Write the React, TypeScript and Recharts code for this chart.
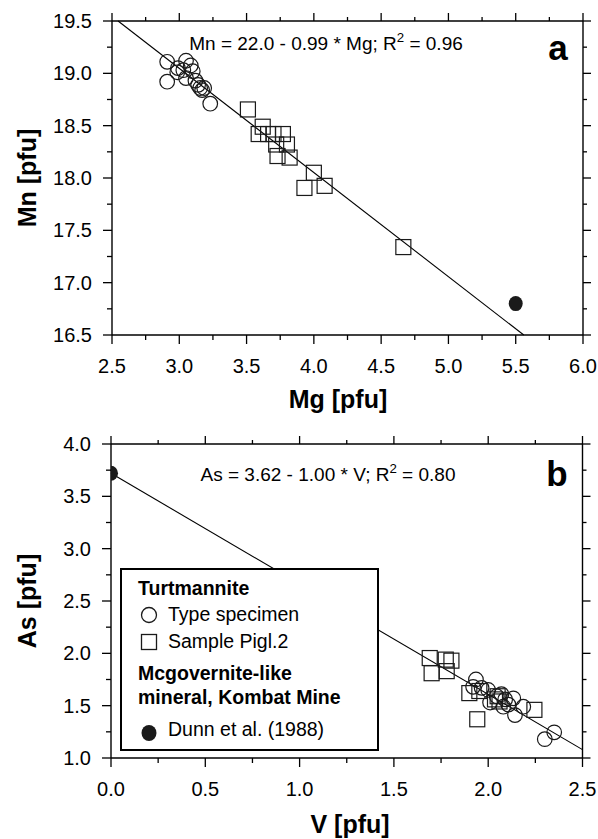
import React from "react";
import { ScatterChart, Scatter, XAxis, YAxis, ReferenceLine } from "recharts";

const FONT = '"Liberation Sans", Arial, Helvetica, sans-serif';
const INK = "#1a1a1a";

// panel a: Mn vs Mg
const MG_TICKS = [2.5, 2.75, 3.0, 3.25, 3.5, 3.75, 4.0, 4.25, 4.5, 4.75, 5.0, 5.25, 5.5, 5.75, 6.0];
const MN_TICKS = [16.5, 16.75, 17.0, 17.25, 17.5, 17.75, 18.0, 18.25, 18.5, 18.75, 19.0, 19.25, 19.5];

const typeSpecimenA = [
  { x: 2.91, y: 19.11 }, { x: 2.91, y: 18.92 }, { x: 2.99, y: 19.05 }, { x: 2.985, y: 19.01 },
  { x: 3.05, y: 19.12 }, { x: 3.085, y: 19.075 }, { x: 3.1, y: 19.02 }, { x: 3.05, y: 18.955 },
  { x: 3.03, y: 19.03 }, { x: 3.12, y: 18.93 }, { x: 3.14, y: 18.89 }, { x: 3.155, y: 18.86 },
  { x: 3.17, y: 18.84 }, { x: 3.185, y: 18.86 }, { x: 3.23, y: 18.71 },
];
const pigl2A = [
  { x: 3.51, y: 18.655 }, { x: 3.62, y: 18.49 }, { x: 3.59, y: 18.42 }, { x: 3.66, y: 18.42 },
  { x: 3.7, y: 18.42 }, { x: 3.77, y: 18.42 }, { x: 3.72, y: 18.32 }, { x: 3.8, y: 18.32 },
  { x: 3.73, y: 18.21 }, { x: 3.82, y: 18.195 }, { x: 4.0, y: 18.05 }, { x: 3.93, y: 17.905 },
  { x: 4.08, y: 17.925 }, { x: 4.665, y: 17.34 },
];
const dunnA = [{ x: 5.5, y: 16.8 }];
const fitA = [{ x: 2.545, y: 19.5 }, { x: 5.56, y: 16.5 }];

// panel b: As vs V
const V_TICKS = [0, 0.25, 0.5, 0.75, 1.0, 1.25, 1.5, 1.75, 2.0, 2.25, 2.5];
const AS_TICKS = [1.0, 1.25, 1.5, 1.75, 2.0, 2.25, 2.5, 2.75, 3.0, 3.25, 3.5, 3.75, 4.0];

const typeSpecimenB = [
  { x: 1.935, y: 1.75 }, { x: 1.92, y: 1.68 }, { x: 1.965, y: 1.67 }, { x: 2.0, y: 1.65 },
  { x: 2.01, y: 1.53 }, { x: 2.045, y: 1.59 }, { x: 2.07, y: 1.61 }, { x: 2.09, y: 1.56 },
  { x: 2.107, y: 1.51 }, { x: 2.08, y: 1.49 }, { x: 2.133, y: 1.57 }, { x: 2.142, y: 1.41 },
  { x: 2.186, y: 1.49 }, { x: 2.3, y: 1.18 }, { x: 2.35, y: 1.245 },
];
const pigl2B = [
  { x: 1.69, y: 1.955 }, { x: 1.7, y: 1.81 }, { x: 1.775, y: 1.94 }, { x: 1.805, y: 1.93 },
  { x: 1.78, y: 1.83 }, { x: 1.9, y: 1.62 }, { x: 1.953, y: 1.64 }, { x: 1.942, y: 1.37 },
  { x: 2.036, y: 1.56 }, { x: 2.05, y: 1.59 }, { x: 2.06, y: 1.54 }, { x: 2.245, y: 1.46 },
];
const dunnB = [{ x: 0, y: 3.72 }];
const fitB = [{ x: 0, y: 3.72 }, { x: 2.5, y: 1.08 }];

const AX = { stroke: "#000", strokeWidth: 1.4 };
const isMajor = (v: number) => Math.abs(v * 2 - Math.round(v * 2)) < 1e-6;

function makeTick(side: "bottom" | "top" | "left" | "right") {
  return (props: any) => {
    const { x, y, payload } = props;
    const v = payload.value as number;
    const len = isMajor(v) ? 9 : 5;
    const lbl = isMajor(v) ? v.toFixed(1) : null;
    if (side === "bottom")
      return (
        <g>
          <line x1={x} x2={x} y1={y} y2={y + len} stroke="#000" strokeWidth={1.3} />
          {lbl && (
            <text x={x} y={y + 31} textAnchor="middle" dominantBaseline="central" fontSize={20} fontFamily={FONT} fill="#000">
              {lbl}
            </text>
          )}
        </g>
      );
    if (side === "left")
      return (
        <g>
          <line x1={x - len} x2={x} y1={y} y2={y} stroke="#000" strokeWidth={1.3} />
          {lbl && (
            <text x={x - 20} y={y} textAnchor="end" dominantBaseline="central" fontSize={20} fontFamily={FONT} fill="#000">
              {lbl}
            </text>
          )}
        </g>
      );
    if (side === "top")
      return <line x1={x} x2={x} y1={y - len + 1} y2={y} stroke="#000" strokeWidth={1.3} />;
    return <line x1={x} x2={x + len - 1} y1={y} y2={y} stroke="#000" strokeWidth={1.3} />;
  };
}

const ring = (p: any) => <circle cx={p.cx} cy={p.cy} r={7.3} fill="none" stroke={INK} strokeWidth={1.2} />;
const box = (p: any) => <rect x={p.cx - 7.5} y={p.cy - 7.5} width={15} height={15} fill="none" stroke={INK} strokeWidth={1.2} />;
const dot = (p: any) => <ellipse cx={p.cx} cy={p.cy} rx={7} ry={7.5} fill={INK} />;

function Panel(props: {
  height: number;
  margin: { top: number; right: number; bottom: number; left: number };
  xDomain: [number, number];
  yDomain: [number, number];
  xTicks: number[];
  yTicks: number[];
  fit: { x: number; y: number }[];
  circles: { x: number; y: number }[];
  squares: { x: number; y: number }[];
  filled: { x: number; y: number }[];
}) {
  const common = { type: "number" as const, interval: 0 as const, tickSize: 0, tickMargin: 0, tickLine: false, axisLine: AX, allowDataOverflow: true };
  return (
    <ScatterChart width={598} height={props.height} margin={props.margin}>
      <XAxis xAxisId="b" dataKey="x" domain={props.xDomain} ticks={props.xTicks} height={1} tick={makeTick("bottom")} {...common} />
      <XAxis xAxisId="t" orientation="top" dataKey="x" domain={props.xDomain} ticks={props.xTicks} height={1} tick={makeTick("top")} {...common} />
      <YAxis yAxisId="l" dataKey="y" domain={props.yDomain} ticks={props.yTicks} width={1} tick={makeTick("left")} {...common} />
      <YAxis yAxisId="r" orientation="right" dataKey="y" domain={props.yDomain} ticks={props.yTicks} width={1} tick={makeTick("right")} {...common} />
      <ReferenceLine xAxisId="b" yAxisId="l" segment={props.fit} stroke="#000" strokeWidth={1.1} ifOverflow="visible" />
      <Scatter xAxisId="b" yAxisId="l" data={props.circles} shape={ring} isAnimationActive={false} />
      <Scatter xAxisId="b" yAxisId="l" data={props.squares} shape={box} isAnimationActive={false} />
      <Scatter xAxisId="b" yAxisId="l" data={props.filled} shape={dot} isAnimationActive={false} />
    </ScatterChart>
  );
}

function T(props: { x: number; y: number; size: number; bold?: boolean; center?: boolean; rotate?: boolean; children: React.ReactNode }) {
  const tf = props.rotate ? "translate(-50%, -50%) rotate(-90deg)" : props.center ? "translate(-50%, -50%)" : "translateY(-50%)";
  return (
    <div
      style={{
        position: "absolute",
        left: props.x,
        top: props.y,
        transform: tf,
        fontSize: props.size,
        lineHeight: `${props.size}px`,
        fontWeight: props.bold ? 700 : 400,
        fontFamily: FONT,
        whiteSpace: "nowrap",
        color: "#000",
      }}
    >
      {props.children}
    </div>
  );
}

const sup = <sup style={{ fontSize: "0.7em", lineHeight: 0, verticalAlign: "0.55em" }}>2</sup>;

export default function App() {
  return (
    <div style={{ position: "absolute", left: 0, top: 0, width: 598, height: 839, background: "#fff" }}>
      <div style={{ position: "absolute", left: 0, top: 0 }}>
        <Panel
          height={420}
          margin={{ top: 20, right: 14, bottom: 84, left: 111 }}
          xDomain={[2.5, 6]}
          yDomain={[16.5, 19.5]}
          xTicks={MG_TICKS}
          yTicks={MN_TICKS}
          fit={fitA}
          circles={typeSpecimenA}
          squares={pigl2A}
          filled={dunnA}
        />
      </div>
      <div style={{ position: "absolute", left: 0, top: 420 }}>
        <Panel
          height={419}
          margin={{ top: 23, right: 14.5, bottom: 80, left: 110 }}
          xDomain={[0, 2.5]}
          yDomain={[1, 4]}
          xTicks={V_TICKS}
          yTicks={AS_TICKS}
          fit={fitB}
          circles={typeSpecimenB}
          squares={pigl2B}
          filled={dunnB}
        />
      </div>

      <T x={326} y={43} size={19} center>Mn = 22.0 - 0.99 * Mg; R{sup} = 0.96</T>
      <T x={558} y={47} size={35} bold center>a</T>
      <T x={338} y={399} size={25} bold center>Mg [pfu]</T>
      <T x={27} y={178} size={25} bold rotate>Mn [pfu]</T>

      <T x={328} y={474} size={19} center>As = 3.62 - 1.00 * V; R{sup} = 0.80</T>
      <T x={557} y={473} size={35} bold center>b</T>
      <T x={350} y={824} size={25} bold center>V [pfu]</T>
      <T x={27} y={601} size={25} bold rotate>As [pfu]</T>

      <div
        style={{
          position: "absolute",
          left: 120,
          top: 568,
          width: 259,
          height: 183,
          boxSizing: "border-box",
          border: "2px solid #000",
          background: "#fff",
        }}
      />
      <T x={138} y={589} size={19.5} bold>Turtmannite</T>
      <svg style={{ position: "absolute", left: 140, top: 606 }} width={18} height={46}>
        <circle cx={9} cy={9} r={7.5} fill="none" stroke={INK} strokeWidth={1.3} />
        <rect x={1.5} y={28.5} width={15} height={15} fill="none" stroke={INK} strokeWidth={1.3} />
      </svg>
      <T x={168} y={615} size={19.5}>Type specimen</T>
      <T x={168} y={642} size={19.5}>Sample Pigl.2</T>
      <T x={138} y={674} size={19.5} bold>Mcgovernite-like</T>
      <T x={138} y={698} size={19.5} bold>mineral, Kombat Mine</T>
      <svg style={{ position: "absolute", left: 140, top: 723 }} width={18} height={20}>
        <ellipse cx={9} cy={10} rx={7.5} ry={8} fill={INK} />
      </svg>
      <T x={168} y={730} size={19.5}>Dunn et al. (1988)</T>
    </div>
  );
}
